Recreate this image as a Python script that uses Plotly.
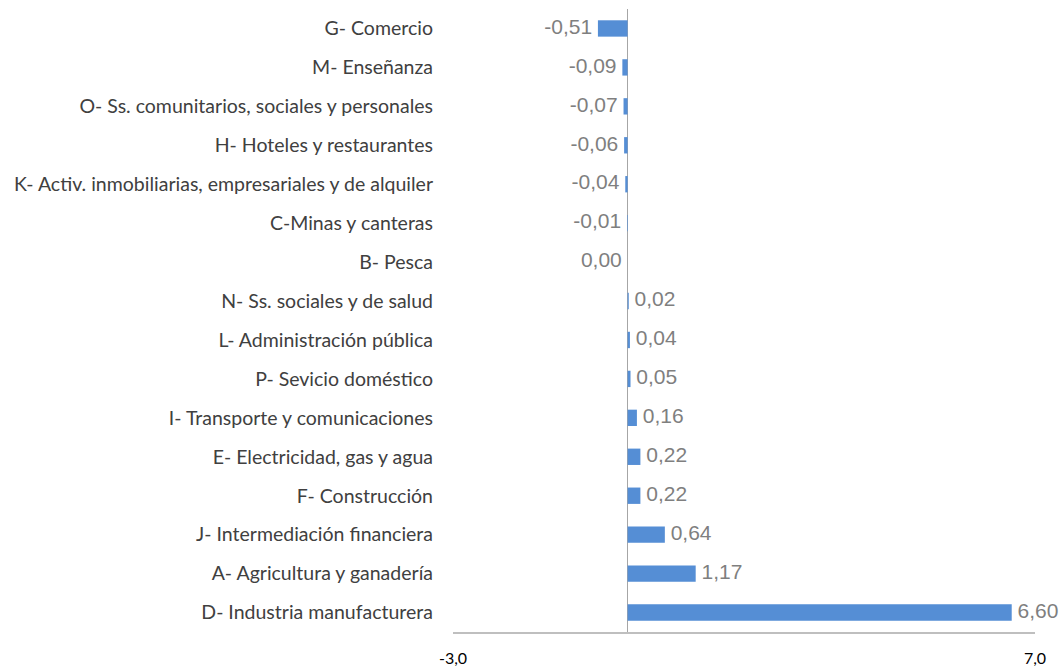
import plotly.graph_objects as go

categories = [
    "G- Comercio",
    "M- Enseñanza",
    "O- Ss. comunitarios, sociales y personales",
    "H- Hoteles y restaurantes",
    "K- Activ. inmobiliarias, empresariales y de alquiler",
    "C-Minas y canteras",
    "B- Pesca",
    "N- Ss. sociales y de salud",
    "L- Administración pública",
    "P- Sevicio doméstico",
    "I- Transporte y comunicaciones",
    "E- Electricidad, gas y agua",
    "F- Construcción",
    "J- Intermediación financiera",
    "A- Agricultura y ganadería",
    "D- Industria manufacturera",
]
values = [-0.51, -0.09, -0.07, -0.06, -0.04, -0.01, 0.00, 0.02, 0.04, 0.05,
          0.16, 0.22, 0.22, 0.64, 1.17, 6.60]
x_ticks = [-3, 7]
x_tick_labels = ["-3,0", "7,0"]

labels = []
positions = []
for v in values:
    s = f"{v:.2f}".replace(".", ",")
    if v <= 0:
        labels.append(s + " ")
        positions.append("middle left")
    else:
        labels.append(" " + s)
        positions.append("middle right")

fig = go.Figure()
fig.add_trace(go.Bar(
    x=values, y=categories, orientation="h",
    marker=dict(color="#558ed5", line=dict(width=0)),
    width=0.42, hoverinfo="skip",
))
fig.add_trace(go.Scatter(
    x=values, y=categories, mode="text", text=labels,
    textposition=positions,
    textfont=dict(family="Liberation Sans, Arial", size=21, color="#7f7f7f"),
    hoverinfo="skip", cliponaxis=False,
))

n = len(categories)
fig.update_layout(
    width=1062, height=666,
    margin=dict(l=453, r=27, t=9, b=34, autoexpand=False),
    plot_bgcolor="white", paper_bgcolor="white",
    showlegend=False,
    xaxis=dict(
        range=[-3, 7], tickvals=x_ticks, ticktext=x_tick_labels,
        showgrid=False, zeroline=True, zerolinecolor="#a6a6a6", zerolinewidth=1,
        showline=True, linecolor="#bfbfbf", linewidth=1.5,
        ticks="", ticklabelstandoff=11,
        tickfont=dict(family="Lato", size=16, color="#000000"),
        fixedrange=True,
    ),
    yaxis=dict(
        range=[n - 0.5, -0.5], showgrid=False, zeroline=False, showline=False,
        ticks="", ticklabelstandoff=19,
        tickfont=dict(family="Lato", size=19.5, color="#404040"),
        automargin=False, fixedrange=True,
    ),
)

fig.write_html(
    "out.html",
    config={"displayModeBar": False, "staticPlot": True},
    post_script="document.body.style.margin='0';document.body.style.overflow='hidden';",
)
